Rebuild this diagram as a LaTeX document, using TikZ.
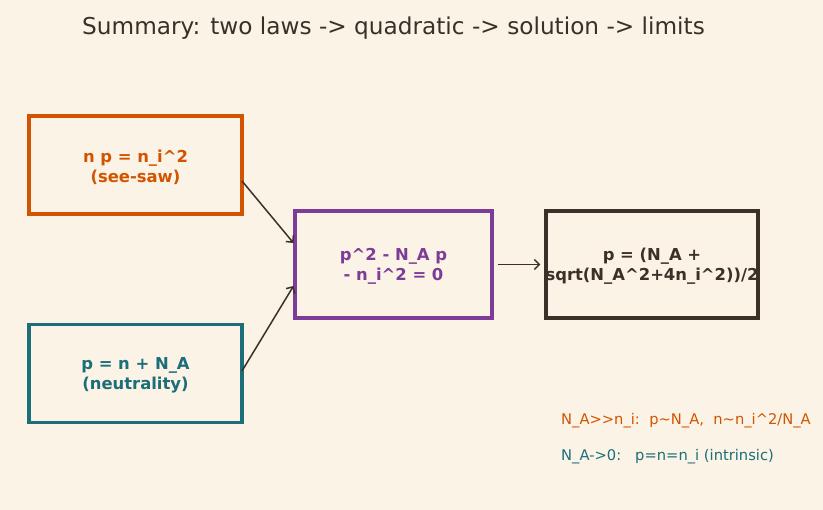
\documentclass[tikz,border=0pt]{standalone}
\usepackage{fontspec}
\setmainfont{DejaVu Sans}
\usetikzlibrary{arrows.meta}
\definecolor{bg}{HTML}{FAF3E6}
\definecolor{corange}{HTML}{D35400}
\definecolor{cteal}{HTML}{1B6E7A}
\definecolor{cpurple}{HTML}{7D3C98}
\definecolor{cdark}{HTML}{3B3129}
\definecolor{ctitle}{HTML}{3A302A}
\tikzset{
  box/.style={draw, line width=3.2pt, minimum width=213pt, minimum height=98pt, inner sep=0pt},
  boxtext/.style={font=\bfseries\fontsize{16.4}{20}\selectfont, align=center, inner sep=0pt},
  conn/.style={draw=cdark, line width=1.5pt, -{Straight Barb[length=5pt, width=10pt]}},
  note/.style={font=\fontsize{14.7}{18}\selectfont, anchor=west, inner sep=0pt}
}
\begin{document}
\begin{tikzpicture}[x=1pt, y=-1pt]
\fill[bg] (0,0) rectangle (823,510);
\useasboundingbox (0,0) rectangle (823,510);
\node[font=\fontsize{23.2}{28}\selectfont, text=ctitle, inner sep=0pt] (title) at (393.5,28) {Summary: two laws -> quadratic -> solution -> limits};

\node[box, draw=corange] (see) at (135.5,165) {};
\node[boxtext, text=corange] (seet) at ([yshift=-2pt]see.center) {n p = n\_i\^{}2\\(see-saw)};

\node[box, draw=cteal] (neu) at (135.5,373.5) {};
\node[boxtext, text=cteal] (neut) at ([yshift=-2pt]neu.center) {p = n + N\_A\\(neutrality)};

\node[box, draw=cpurple, minimum width=197pt, minimum height=107pt] (quad) at (393.5,264.5) {};
\node[boxtext, text=cpurple] (quadt) at ([yshift=-2pt]quad.center) {p\^{}2 - N\_A p\\- n\_i\^{}2 = 0};

\node[box, draw=cdark, minimum width=212pt, minimum height=107pt] (sol) at (652,264.5) {};
\node[boxtext, text=cdark] (solt) at ([yshift=-2pt]sol.center) {p = (N\_A +\\sqrt(N\_A\^{}2+4n\_i\^{}2))/2};

\coordinate (a1s) at (242,181);
\coordinate (a1e) at (293.5,243);
\coordinate (a2s) at (242,371);
\coordinate (a2e) at (293.5,286);
\draw[conn] (a1s) -- (a1e);
\draw[conn] (a2s) -- (a2e);
\draw[conn] (quad.east) ++(4,0) coordinate (a3s) -- ([xshift=-4pt]sol.west);

\node[note, text=corange] (n1) at (561,421) {N\_A>{}>n\_i:\ \ p\textasciitilde N\_A,\ \ n\textasciitilde n\_i\^{}2/N\_A};
\node[note, text=cteal] (n2) at (561,457) {N\_A->0:\ \ \ p=n=n\_i (intrinsic)};
\end{tikzpicture}
\end{document}
